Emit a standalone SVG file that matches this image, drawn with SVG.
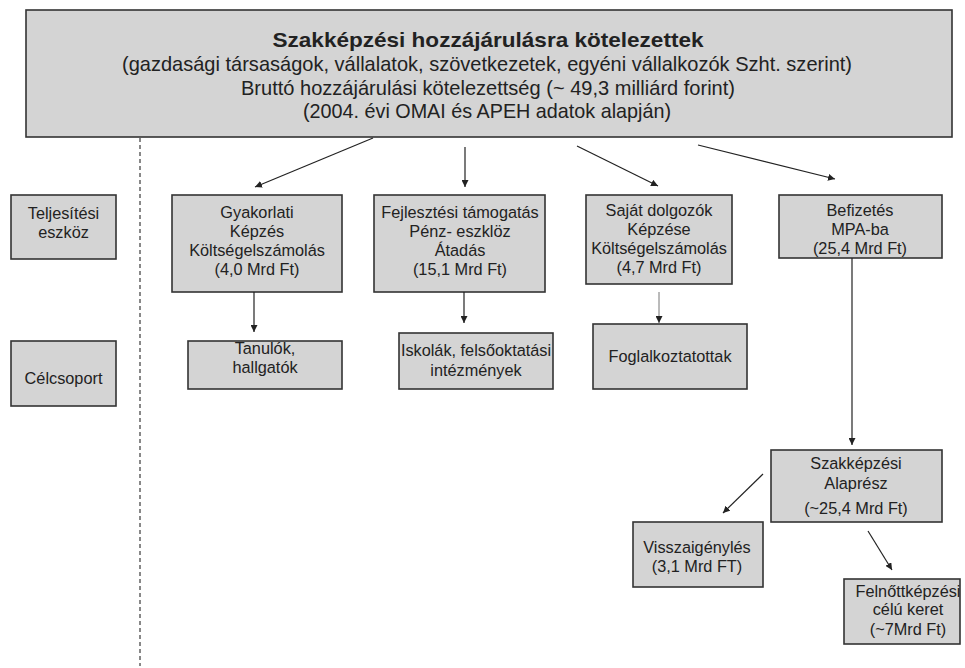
<svg xmlns="http://www.w3.org/2000/svg" width="965" height="668" viewBox="0 0 965 668">
<defs>
<style>
.box{fill:#d4d4d4;stroke:#333;stroke-width:1.6}
.t{font-family:"Liberation Sans",Arial,sans-serif;font-size:16.3px;fill:#222;text-anchor:middle}
.m{font-family:"Liberation Sans",Arial,sans-serif;font-size:21px;fill:#222;text-anchor:middle}
.c{stroke:#222;stroke-width:1.2;fill:none;marker-end:url(#ah)}
</style>
<marker id="ah" viewBox="0 0 10 10" refX="10" refY="5" markerWidth="7" markerHeight="7" markerUnits="userSpaceOnUse" orient="auto">
<path d="M0,0 L10,5 L0,10 z" fill="#222"/>
</marker>
</defs>
<rect width="965" height="668" fill="#fff"/>

<g id="main">
<rect class="box" x="26" y="10" width="926" height="127"/>
<text class="m" x="488" y="47" font-weight="bold" font-size="22" textLength="431" lengthAdjust="spacingAndGlyphs">Szakképzési hozzájárulásra kötelezettek</text>
<text class="m" x="487" y="71" textLength="730" lengthAdjust="spacingAndGlyphs">(gazdasági társaságok, vállalatok, szövetkezetek, egyéni vállalkozók Szht. szerint)</text>
<text class="m" x="488" y="95" textLength="494" lengthAdjust="spacingAndGlyphs">Bruttó hozzájárulási kötelezettség (~ 49,3 milliárd forint)</text>
<text class="m" x="487" y="118" textLength="368" lengthAdjust="spacingAndGlyphs">(2004. évi OMAI és APEH adatok alapján)</text>
</g>

<line x1="140" y1="138" x2="140" y2="666" stroke="#888" stroke-width="2" stroke-dasharray="4,3"/>

<g id="teljesitesi">
<rect class="box" x="11" y="195" width="105" height="64"/>
<text class="t" x="63.5" y="219">Teljesítési</text>
<text class="t" x="63.5" y="238">eszköz</text>
</g>

<g id="celcsoport">
<rect class="box" x="11" y="341" width="105" height="65"/>
<text class="t" x="63.5" y="384">Célcsoport</text>
</g>

<g id="gyakorlati">
<rect class="box" x="172" y="195" width="170" height="97"/>
<text class="t" x="257" y="218">Gyakorlati</text>
<text class="t" x="257" y="237">Képzés</text>
<text class="t" x="257" y="256">Költségelszámolás</text>
<text class="t" x="257" y="275">(4,0 Mrd Ft)</text>
</g>

<g id="fejlesztesi">
<rect class="box" x="374" y="195" width="171" height="97"/>
<text class="t" x="460" y="218">Fejlesztési támogatás</text>
<text class="t" x="460" y="237">Pénz- eszklöz</text>
<text class="t" x="460" y="256">Átadás</text>
<text class="t" x="460" y="275">(15,1 Mrd Ft)</text>
</g>

<g id="sajat">
<rect class="box" x="586" y="195" width="146" height="89"/>
<text class="t" x="659" y="216">Saját dolgozók</text>
<text class="t" x="659" y="235">Képzése</text>
<text class="t" x="659" y="254">Költségelszámolás</text>
<text class="t" x="659" y="273">(4,7 Mrd Ft)</text>
</g>

<g id="befizetes">
<rect class="box" x="779" y="195" width="163" height="63"/>
<text class="t" x="860" y="216">Befizetés</text>
<text class="t" x="860" y="235">MPA-ba</text>
<text class="t" x="860" y="254">(25,4 Mrd Ft)</text>
</g>

<g id="tanulok">
<rect class="box" x="188" y="341" width="154" height="48"/>
<text class="t" x="265" y="354">Tanulók,</text>
<text class="t" x="265" y="373">hallgatók</text>
</g>

<g id="iskolak">
<rect class="box" x="399" y="333" width="154" height="56"/>
<text class="t" x="476" y="356">Iskolák, felsőoktatási</text>
<text class="t" x="476" y="376">intézmények</text>
</g>

<g id="foglalkoztatottak">
<rect class="box" x="593" y="324" width="154" height="65"/>
<text class="t" x="670" y="362">Foglalkoztatottak</text>
</g>

<g id="alapresz">
<rect class="box" x="771" y="450" width="171" height="72"/>
<text class="t" x="856" y="469">Szakképzési</text>
<text class="t" x="856" y="489">Alaprész</text>
<text class="t" x="856" y="514">(~25,4 Mrd Ft)</text>
</g>

<g id="visszaigenyles">
<rect class="box" x="633" y="522" width="130" height="65"/>
<text class="t" x="697" y="553">Visszaigénylés</text>
<text class="t" x="697" y="572">(3,1 Mrd FT)</text>
</g>

<g id="felnottkepzesi">
<rect class="box" x="844" y="579" width="116" height="65"/>
<text class="t" x="908" y="597">Felnőttképzési</text>
<text class="t" x="908" y="615">célú keret</text>
<text class="t" x="908" y="635">(~7Mrd Ft)</text>
</g>

<g id="connectors">
<line class="c" x1="373" y1="138" x2="255" y2="187"/>
<line class="c" x1="465" y1="147" x2="465" y2="187"/>
<line class="c" x1="577" y1="146" x2="658" y2="186"/>
<line class="c" x1="698" y1="145" x2="835" y2="179"/>
<line class="c" x1="254" y1="292" x2="254" y2="332"/>
<line class="c" x1="464" y1="292" x2="464" y2="323"/>
<line x1="659" y1="292" x2="659" y2="323" stroke="#777" stroke-width="1" marker-end="url(#ah)"/>
<line class="c" x1="852" y1="258" x2="852" y2="445"/>
<line class="c" x1="763" y1="474" x2="723" y2="513"/>
<line class="c" x1="868" y1="531" x2="892" y2="570"/>
</g>
</svg>
